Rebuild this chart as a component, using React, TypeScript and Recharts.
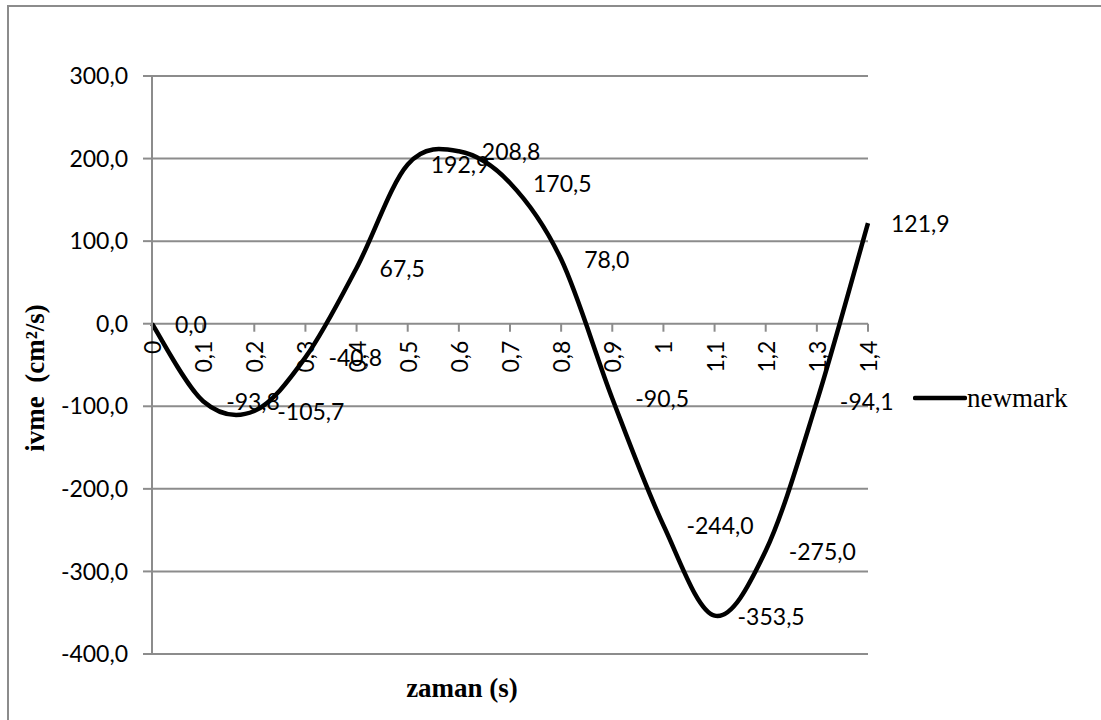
import { LineChart, Line, XAxis, YAxis, CartesianGrid, Legend, LabelList } from "recharts";

// time steps (s) and the computed acceleration for each step
const times = ["0", "0,1", "0,2", "0,3", "0,4", "0,5", "0,6", "0,7", "0,8", "0,9", "1", "1,1", "1,2", "1,3", "1,4"];
const newmark = [0.0, -93.8, -105.7, -40.8, 67.5, 192.9, 208.8, 170.5, 78.0, -90.5, -244.0, -353.5, -275.0, -94.1, 121.9];
const yTicks = [-400, -300, -200, -100, 0, 100, 200, 300];

const Y_MIN = -400;
const Y_MAX = 300;

const W = 1101;
const H = 720;
const PLOT_LEFT = 152;
const PLOT_RIGHT = 868;
const PLOT_TOP = 76;
const PLOT_BOTTOM = 654;
const YAXIS_W = 100;
const XAXIS_H = 60;

const GRID = "#8c8c8c";
const NUM_FONT = "Lato, 'Open Sans', sans-serif";
const SERIF = "'Liberation Serif', 'DejaVu Serif', serif";

const data = times.map((t, i) => ({ t, newmark: newmark[i] }));

const fmt = (v: number) => v.toFixed(1).replace(".", ",");

// Excel-style smoothed line: cubic Bezier through every point (Catmull-Rom, 1/6 handles)
function excelSmooth(context: any) {
  let xs: number[] = [];
  let ys: number[] = [];
  return {
    areaStart() {},
    areaEnd() {},
    lineStart() {
      xs = [];
      ys = [];
    },
    point(x: number, y: number) {
      xs.push(+x);
      ys.push(+y);
    },
    lineEnd() {
      const n = xs.length;
      if (!n) return;
      context.moveTo(xs[0], ys[0]);
      for (let i = 0; i < n - 1; i++) {
        const a = Math.max(i - 1, 0);
        const d = Math.min(i + 2, n - 1);
        const c1x = xs[i] + (xs[i + 1] - xs[a]) / 6;
        const c1y = ys[i] + (ys[i + 1] - ys[a]) / 6;
        const c2x = xs[i + 1] - (xs[d] - xs[i]) / 6;
        const c2y = ys[i + 1] - (ys[d] - ys[i]) / 6;
        context.bezierCurveTo(c1x, c1y, c2x, c2y, xs[i + 1], ys[i + 1]);
      }
    },
  };
}

const zeroY = PLOT_TOP + ((PLOT_BOTTOM - PLOT_TOP) * Y_MAX) / (Y_MAX - Y_MIN);

// category ticks sit on the y=0 line, rotated
const XTick = (props: any) => {
  const { x, payload } = props;
  return (
    <g>
      <line x1={x} x2={x} y1={zeroY} y2={zeroY + 8} stroke={GRID} strokeWidth={2} />
      <text
        transform={`translate(${x},${zeroY + 17}) rotate(-90)`}
        textAnchor="end"
        dominantBaseline="central"
        fontFamily={NUM_FONT}
        fontSize={23}
        fill="#000"
      >
        {payload.value}
      </text>
    </g>
  );
};

const PointLabel = (props: any) => {
  const { x, y, value } = props;
  return (
    <text x={Number(x) + 23} y={Number(y)} dominantBaseline="central" fontFamily={NUM_FONT} fontSize={23} fill="#000">
      {fmt(Number(value))}
    </text>
  );
};

const LegendBox = () => (
  <div style={{ display: "flex", alignItems: "center" }}>
    <svg width={54} height={6} style={{ display: "block" }}>
      <line x1={2} x2={52} y1={3} y2={3} stroke="#000" strokeWidth={4.5} strokeLinecap="round" />
    </svg>
    <span style={{ fontFamily: SERIF, fontSize: 27, color: "#000", lineHeight: "30px" }}>newmark</span>
  </div>
);

export default function App() {
  return (
    <div style={{ position: "absolute", left: 0, top: 0, width: W, height: H, background: "#fff", overflow: "hidden" }}>
      <div
        style={{
          position: "absolute",
          left: 7,
          top: 5,
          width: W,
          height: H,
          borderLeft: `2px solid ${GRID}`,
          borderTop: `2px solid ${GRID}`,
        }}
      />
      <LineChart
        width={W}
        height={H}
        data={data}
        margin={{
          top: PLOT_TOP,
          right: W - PLOT_RIGHT,
          left: PLOT_LEFT - YAXIS_W,
          bottom: H - PLOT_BOTTOM - XAXIS_H,
        }}
      >
        <CartesianGrid vertical={false} stroke={GRID} strokeWidth={2} />
        <XAxis
          dataKey="t"
          height={XAXIS_H}
          interval={0}
          axisLine={false}
          tickLine={false}
          tick={<XTick />}
          label={{
            content: () => (
              <text x={462} y={697} textAnchor="middle" fontFamily={SERIF} fontWeight="bold" fontSize={27} fill="#000">
                zaman (s)
              </text>
            ),
          }}
        />
        <YAxis
          width={YAXIS_W}
          domain={[Y_MIN, Y_MAX]}
          ticks={yTicks}
          interval={0}
          tickFormatter={fmt}
          stroke={GRID}
          strokeWidth={2}
          tickSize={9}
          tickMargin={15}
          tick={{ fontFamily: NUM_FONT, fontSize: 23, fill: "#000" }}
          label={{
            content: () => (
              <text
                transform={`translate(44,${(PLOT_TOP + PLOT_BOTTOM) / 2 + 13}) rotate(-90)`}
                textAnchor="middle"
                fontFamily={SERIF}
                fontWeight="bold"
                fontSize={27}
                fill="#000"
                style={{ whiteSpace: "pre" }}
              >
                {"ivme  (cm²/s)"}
              </text>
            ),
          }}
        />
        <Legend
          layout="horizontal"
          align="center"
          verticalAlign="middle"
          wrapperStyle={{ left: 913, top: 383, width: "auto", height: "auto" }}
          content={<LegendBox />}
        />
        <Line
          type={excelSmooth as any}
          dataKey="newmark"
          name="newmark"
          stroke="#000"
          strokeWidth={4.5}
          dot={false}
          activeDot={false}
          isAnimationActive={false}
        >
          <LabelList dataKey="newmark" content={<PointLabel />} />
        </Line>
      </LineChart>
    </div>
  );
}
